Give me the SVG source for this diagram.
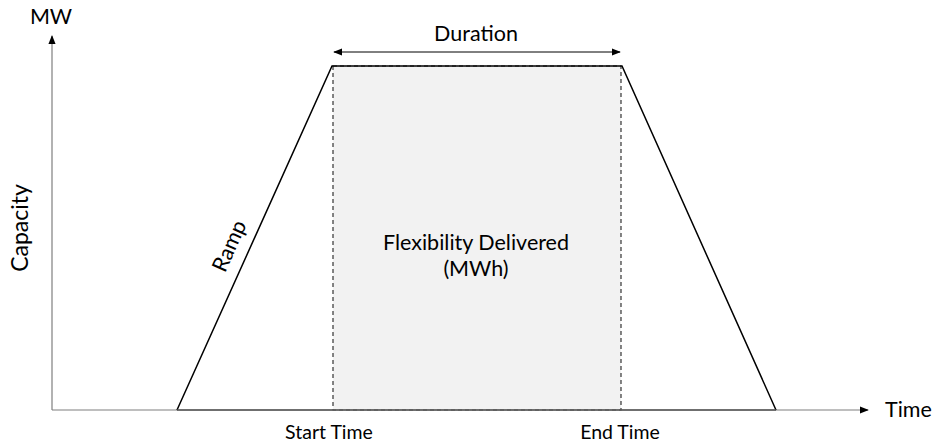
<svg xmlns="http://www.w3.org/2000/svg" width="933" height="445" viewBox="0 0 933 445">
  <defs>
    <marker id="arrow" viewBox="0 0 10 10" refX="9" refY="5" markerWidth="9" markerHeight="9" markerUnits="userSpaceOnUse" orient="auto-start-reverse">
      <path d="M0,1 L10,5 L0,9 Z" fill="#000"/>
    </marker>
  </defs>
  <style>
    text { font-family: Lato, "Liberation Sans", sans-serif; font-size: 21.5px; fill: #000; }
    .small { font-size: 19.5px; }
    .axis { stroke: #7f7f7f; stroke-width: 1.2; fill: none; }
    .shape { stroke: #000; stroke-width: 1.5; fill: none; stroke-linejoin: miter; }
    .area { fill: #f2f2f2; stroke: #222; stroke-width: 1.1; stroke-dasharray: 4 3; }
    .span { stroke: #000; stroke-width: 1; fill: none; }
  </style>
  <rect width="933" height="445" fill="#fff"/>

  <g id="delivered">
    <rect class="area" x="333" y="66" width="288" height="344"/>
    <text x="476" y="250" text-anchor="middle">Flexibility Delivered</text>
    <text x="476" y="276" text-anchor="middle">(MWh)</text>
  </g>

  <g id="connectors">
    <line class="axis" x1="52" y1="410" x2="52" y2="36" marker-end="url(#arrow)"/>
    <line class="axis" x1="52" y1="410" x2="868" y2="410" marker-end="url(#arrow)"/>
    <line class="span" x1="334" y1="52" x2="620" y2="52" marker-start="url(#arrow)" marker-end="url(#arrow)"/>
  </g>

  <g id="profile">
    <polyline class="shape" points="177,410 332,66 622,66 776,410"/>
    <line x1="177" y1="410" x2="776" y2="410" stroke="#555" stroke-width="1.5"/>
  </g>

  <g id="labels">
    <text x="51" y="24" text-anchor="middle">MW</text>
    <text x="885" y="417">Time</text>
    <text transform="translate(28,228) rotate(-90)" text-anchor="middle" style="font-size:23px">Capacity</text>
    <text transform="translate(236,249) rotate(-65.7)" text-anchor="middle">Ramp</text>
    <text x="476" y="41" text-anchor="middle">Duration</text>
    <text class="small" x="329" y="439" text-anchor="middle">Start Time</text>
    <text class="small" x="620" y="439" text-anchor="middle">End Time</text>
  </g>
</svg>
